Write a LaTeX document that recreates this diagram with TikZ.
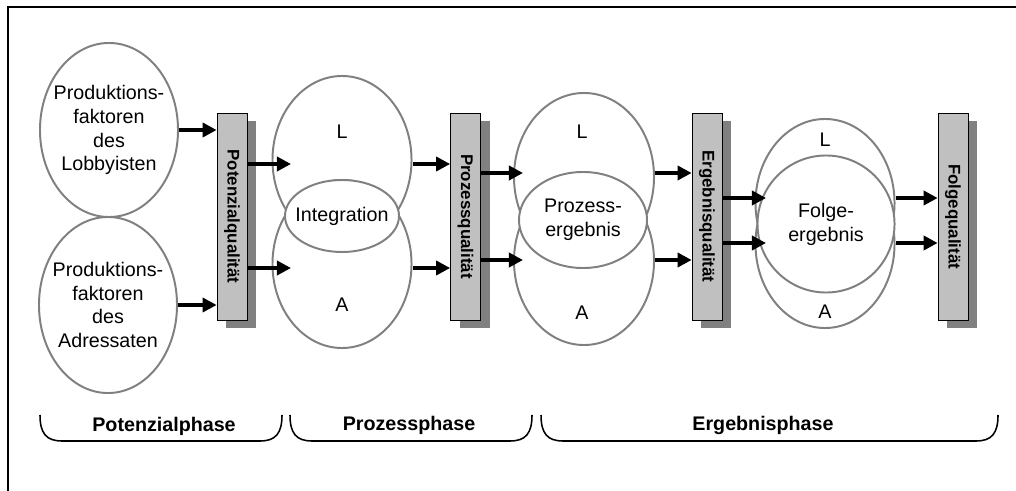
\documentclass[tikz,border=0pt]{standalone}
\usepackage{fontspec}
\setmainfont{Liberation Sans}
\usetikzlibrary{positioning,shapes.geometric,arrows.meta,shadows}
\definecolor{kreisgrau}{HTML}{808080}
\definecolor{balkengrau}{HTML}{C0C0C0}
\definecolor{schattengrau}{HTML}{808080}

\begin{document}
\begin{tikzpicture}[x=0.025cm, y=-0.025cm,
	kreis/.style={ellipse, draw=kreisgrau, line width=1.4pt, fill=white, inner sep=0pt},
	kreistext/.style={align=center, inner sep=0pt, font=\fontsize{14}{17}\selectfont},
	balken/.style={rectangle, draw=black, line width=0.5pt, fill=balkengrau, minimum width=0.75cm, minimum height=5.175cm, drop shadow={shadow xshift=0.225cm, shadow yshift=-0.2cm, fill=schattengrau, opacity=1}},
	balkentext/.style={rotate=-90, font=\bfseries\fontsize{12}{14}\selectfont},
	pfeil/.style={line width=3pt, -{Triangle[length=10pt,width=10pt]}},
	klammer/.style={line width=1.1pt},
	phasentext/.style={font=\bfseries\fontsize{14}{17}\selectfont}]
	\useasboundingbox (0,0) rectangle (1016,491);
	\draw[line width=1.2pt] (8,491) -- (8,7) -- (1016,7);
	
	% Potenzialphase
	\node[kreis, minimum width=3.45cm, minimum height=4.35cm] (lob) at (109,130) {};
	\node[kreis, minimum width=3.45cm, minimum height=4.4cm] (adr) at (108,305) {};
	\node[kreistext] (lobt) at (lob) {Produktions-\\faktoren\\des\\Lobbyisten};
	\node[kreistext] (adrt) at (adr) {Produktions-\\faktoren\\des\\Adressaten};
	
	% Prozessphase
	\node[kreis, minimum width=3.475cm, minimum height=4.2cm] (L1) at (342,160) {};
	\node[kreis, minimum width=3.475cm, minimum height=4.2cm] (A1) at (342,264) {};
	\node[kreis, minimum width=2.85cm, minimum height=1.8cm] (int) at (342,216) {};
	\node[kreistext] (intt) at (int) {Integration};
	\node[kreistext] (L1t) at (342,132) {L};
	\node[kreistext] (A1t) at (342,305) {A};
	
	% Ergebnisphase
	\node[kreis, minimum width=3.5cm, minimum height=4.2cm] (L2) at (584,177) {};
	\node[kreis, minimum width=3.5cm, minimum height=4.2cm] (A2) at (584,261) {};
	\node[kreis, minimum width=3.2cm, minimum height=2.4cm] (proz) at (583,220) {};
	\node[kreistext] (prozt) at (proz) {Prozess-\\ergebnis};
	\node[kreistext] (L2t) at (582,132) {L};
	\node[kreistext] (A2t) at (582,313) {A};
	
	\node[kreis, minimum width=3.475cm, minimum height=4.2cm] (L3) at (825,203) {};
	\node[kreis, minimum width=3.475cm, minimum height=4.2cm] (A3) at (825,244) {};
	\node[kreis, minimum width=3.425cm, minimum height=3.425cm] (folge) at (826,224) {};
	\node[kreistext] (folget) at (folge) {Folge-\\ergebnis};
	\node[kreistext] (L3t) at (825,140) {L};
	\node[kreistext] (A3t) at (825,312) {A};
	
	% Qualitaeten
	\node[balken] (pq) at (232,216.5) {};
	\node[balken] (prq) at (465.5,216.5) {};
	\node[balken] (eq) at (707,216.5) {};
	\node[balken] (fq) at (953,216.5) {};
	\node[balkentext] (pqt) at (pq) {Potenzialqualität};
	\node[balkentext] (prqt) at (prq) {Prozessqualität};
	\node[balkentext] (eqt) at (eq) {Ergebnisqualität};
	\node[balkentext] (fqt) at (fq) {Folgequalität};
	
	% Pfeile
	\coordinate (L1ein) at (291,164);
	\coordinate (A1ein) at (291,268);
	\coordinate (L2ein) at (523,173);
	\coordinate (A2ein) at (523,260);
	\coordinate (L3ein) at (766,198);
	\coordinate (A3ein) at (766,243);
	
	\draw[pfeil] (lob.east) -- (pq.west |- lob.east);
	\draw[pfeil] (adr.east) -- (pq.west |- adr.east);
	\draw[pfeil] (pq.east |- L1ein) -- (L1ein);
	\draw[pfeil] (pq.east |- A1ein) -- (A1ein);
	\draw[pfeil] (L1.east |- L1ein) -- (prq.west |- L1ein);
	\draw[pfeil] (A1.east |- A1ein) -- (prq.west |- A1ein);
	\draw[pfeil] (prq.east |- L2ein) -- (L2ein);
	\draw[pfeil] (prq.east |- A2ein) -- (A2ein);
	\draw[pfeil] (L2.east |- L2ein) -- (eq.west |- L2ein);
	\draw[pfeil] (A2.east |- A2ein) -- (eq.west |- A2ein);
	\draw[pfeil] (eq.east |- L3ein) -- (L3ein);
	\draw[pfeil] (eq.east |- A3ein) -- (A3ein);
	\draw[pfeil] (folge.east |- L3ein) -- (fq.west |- L3ein);
	\draw[pfeil] (folge.east |- A3ein) -- (fq.west |- A3ein);
	
	% Phasen
	\draw[klammer] (40,415) .. controls (40,433) and (46,441) .. (62,441) -- (260,441) .. controls (276,441) and (282,433) .. (282,415);
	\draw[klammer] (290,415) .. controls (290,433) and (296,441) .. (312,441) -- (510,441) .. controls (526,441) and (532,433) .. (532,415);
	\draw[klammer] (541,415) .. controls (541,433) and (547,441) .. (563,441) -- (976,441) .. controls (992,441) and (998,433) .. (998,415);
	\node[phasentext] (ph1) at (164,426) {Potenzialphase};
	\node[phasentext] (ph2) at (409,425) {Prozessphase};
	\node[phasentext] (ph3) at (763,425) {Ergebnisphase};
\end{tikzpicture}
\end{document}
